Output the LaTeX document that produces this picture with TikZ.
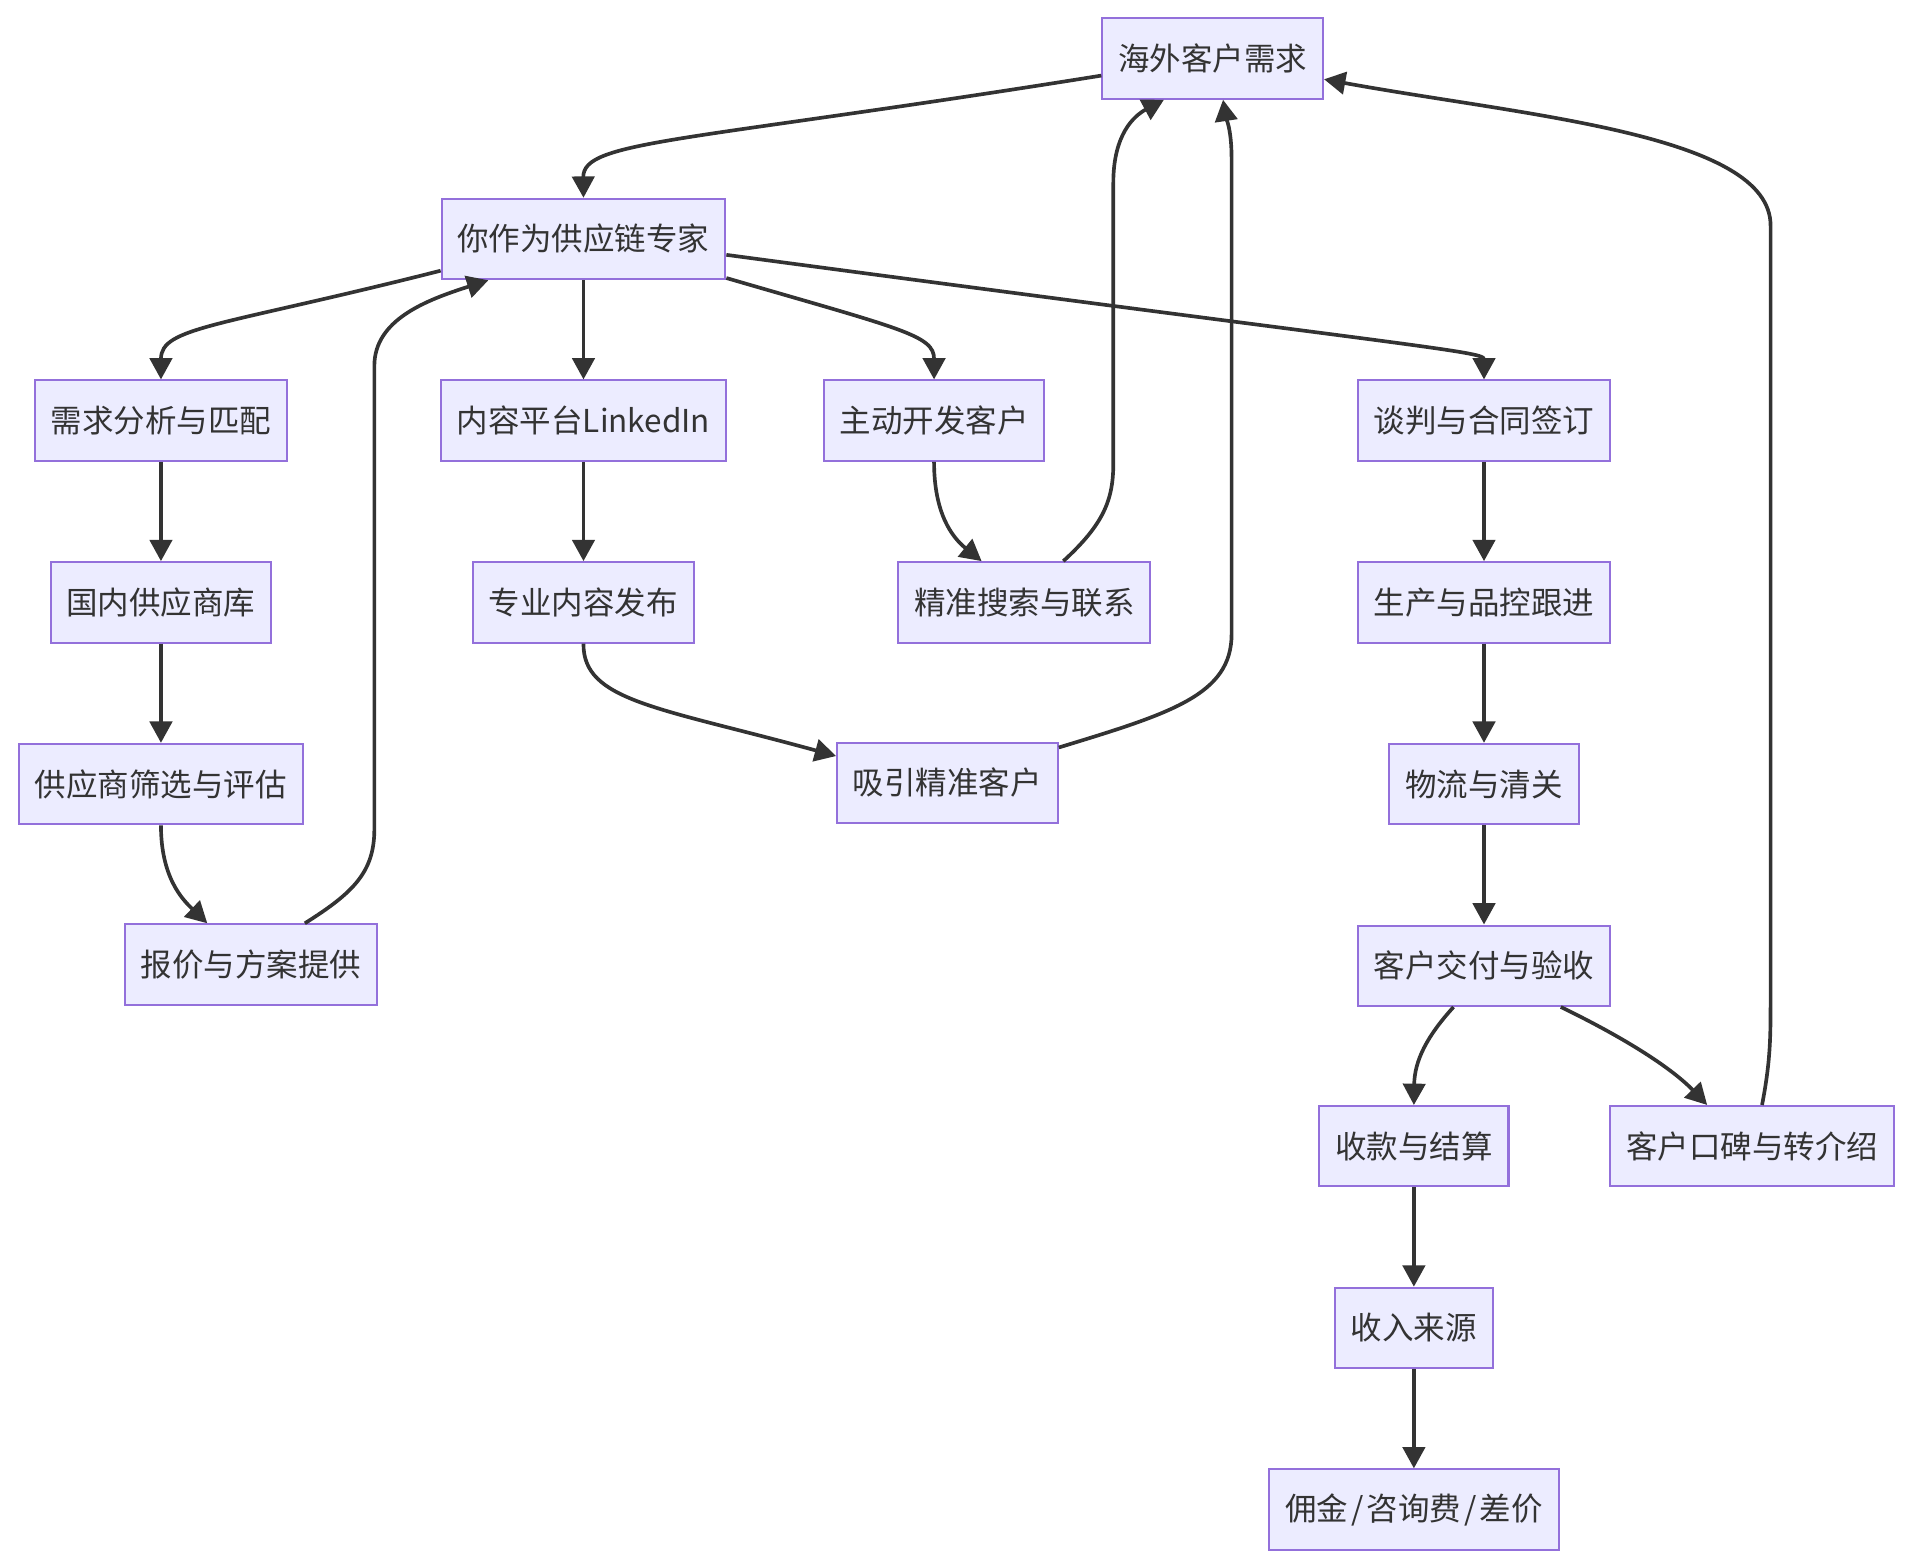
\documentclass[tikz,border=0pt]{standalone}
\usepackage{fontspec}
\setmainfont{Noto Sans CJK SC}
\usepackage{xcolor}
\usetikzlibrary{arrows.meta, calc, positioning}
\definecolor{boxfill}{HTML}{ECECFF}
\definecolor{boxline}{HTML}{9370DB}
\definecolor{inkgray}{HTML}{333333}

\tikzset{
    stepnode/.style={draw=boxline, fill=boxfill, line width=1pt, minimum height=39.6pt,
        inner xsep=7.8pt, text=inkgray, font=\fontsize{15.5}{18}\selectfont},
    flow/.style={draw=inkgray, line width=1.8pt, -{Triangle[length=10.5pt, width=11pt]}},
}

\begin{document}
\begin{tikzpicture}[x=0.6pt, y=-0.6pt]
        \useasboundingbox (0,0) rectangle (1568,1282.6);

        % top
        \node [stepnode] (need) at (994.5,48) {海外客户需求};
        \node [stepnode] (me) at (478.5,196) {你作为供应链专家};

        % supply column
        \node [stepnode] (match) at (132,345) {需求分析与匹配};
        \node [stepnode, below=48.8pt of match] (pool) {国内供应商库};
        \node [stepnode, below=48.8pt of pool] (screen) {供应商筛选与评估};
        \node [stepnode] (offer) at (206,791) {报价与方案提供};

        % content column
        \node [stepnode] (linkedin) at (478.5,345) {内容平台LinkedIn};
        \node [stepnode, below=48.8pt of linkedin] (post) {专业内容发布};
        \node [stepnode] (attract) at (777,642) {吸引精准客户};

        % outreach column
        \node [stepnode] (outreach) at (766,345) {主动开发客户};
        \node [stepnode] (search) at (840,494) {精准搜索与联系};

        % deal column
        \node [stepnode] (deal) at (1217,345) {谈判与合同签订};
        \node [stepnode, below=48.8pt of deal] (qc) {生产与品控跟进};
        \node [stepnode, below=48.8pt of qc] (ship) {物流与清关};
        \node [stepnode, below=48.8pt of ship] (deliver) {客户交付与验收};
        \node [stepnode] (pay) at (1159.5,940) {收款与结算};
        \node [stepnode] (refer) at (1437,940) {客户口碑与转介绍};
        \node [stepnode, below=48.8pt of pay] (income) {收入来源};
        \node [stepnode, below=48.8pt of income] (fee) {佣金\kern.1em/\kern.1em咨询费\kern.1em/\kern.1em差价};

        % edges from the top
        \draw [flow] ($(need.west)+(0,14)$) .. controls (560,117) and (478,115) .. (me.north);
        \draw [flow] ($(me.west)+(0,26)$) .. controls (180,268) and (132,268) .. (match.north);
        \draw [flow] (me.south) -- (linkedin.north);
        \draw [flow] ($(me.east)+(0,32)$) .. controls (740,270) and (766,275) .. (outreach.north);
        \draw [flow] ($(me.east)+(0,13)$) .. controls (1150,283) and (1217,288) .. (deal.north);

        % supply chain
        \draw [flow] (match) -- (pool);
        \draw [flow] (pool) -- (screen);
        \draw [flow] (screen.south) .. controls (132,720) and (150,738) .. ($(offer.north)+(-36,0)$);
        \draw [flow] ($(offer.north)+(44,0)$) .. controls (290,732) and (307,715) .. (307,680)
            -- (307,300) .. controls (307,262) and (350,246) .. ($(me.south)+(-78,0)$);

        % content and outreach
        \draw [flow] (linkedin) -- (post);
        \draw [flow] (post.south) .. controls (478,575) and (540,580) .. ($(attract.west)+(0,-22)$);
        \draw [flow] (outreach.south) .. controls (766,420) and (780,440) .. ($(search.north)+(-35,0)$);
        \draw [flow] ($(search.north)+(32,0)$) .. controls (905,430) and (913,410) .. (913,380)
            -- (913,150) .. controls (913,110) and (930,95) .. ($(need.south)+(-40,0)$);
        \draw [flow] ($(attract.east)+(0,-29)$) .. controls (960,585) and (1010,570) .. (1010,520)
            -- (1010,130) .. controls (1010,105) and (1005,95) .. ($(need.south)+(8.5,0)$);

        % deal to income
        \draw [flow] (deal) -- (qc);
        \draw [flow] (qc) -- (ship);
        \draw [flow] (ship) -- (deliver);
        \draw [flow] ($(deliver.south)+(-25,0)$) .. controls (1170,850) and (1160,870) .. (pay.north);
        \draw [flow] ($(deliver.south)+(63,0)$) .. controls (1330,850) and (1370,875) .. ($(refer.north)+(-37,0)$);
        \draw [flow] (pay) -- (income);
        \draw [flow] (income) -- (fee);
        \draw [flow] ($(refer.north)+(8,0)$) .. controls (1452,870) and (1452,850) .. (1452,820)
            -- (1452,185) .. controls (1452,110) and (1250,95) .. ($(need.east)+(0,17)$);
\end{tikzpicture}
\end{document}
